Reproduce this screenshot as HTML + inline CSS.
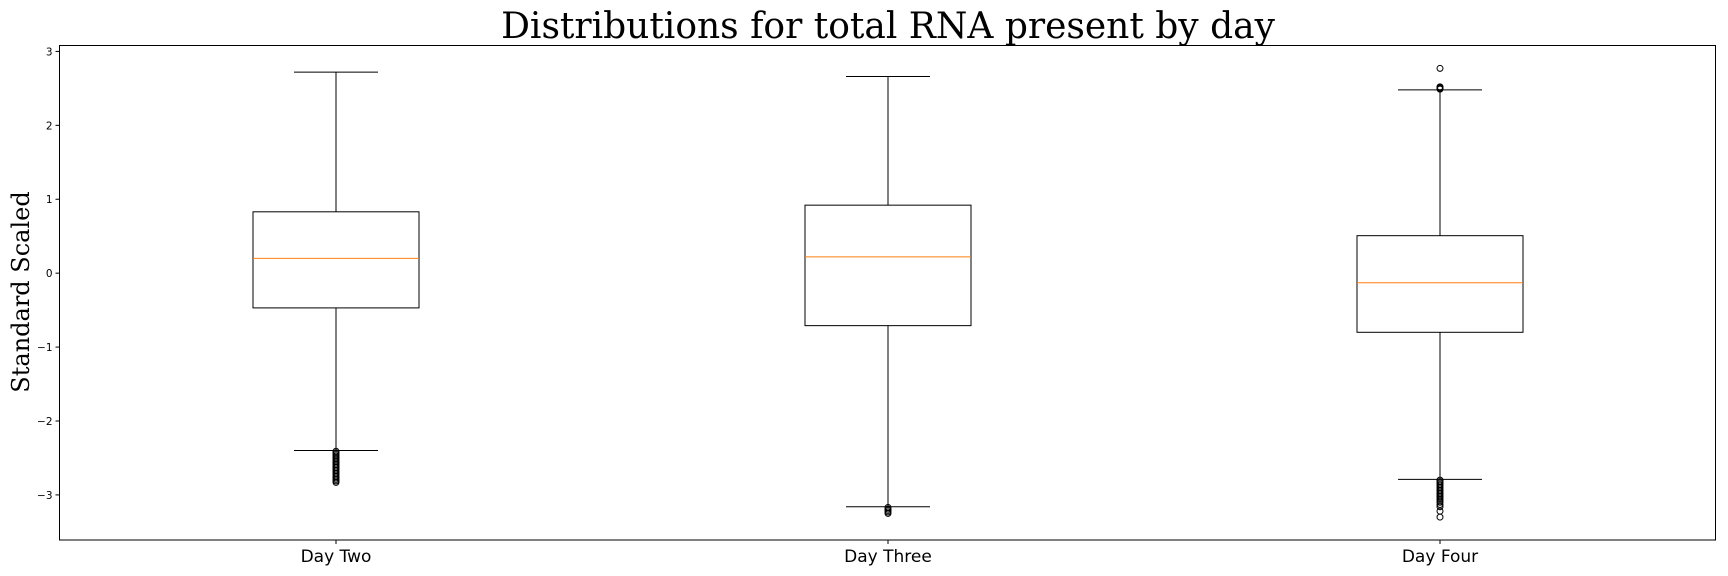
<!DOCTYPE html>
<html><head><meta charset="utf-8"><style>body{margin:0;background:#fff}svg{display:block}</style></head>
<body>
<svg id="c" width="1728" height="576" xmlns="http://www.w3.org/2000/svg">
<text x="888" y="38" text-anchor="middle" font-family="DejaVu Serif, serif" font-size="36">Distributions for total RNA present by day</text>
<text transform="translate(29,292) rotate(-90)" text-anchor="middle" font-family="DejaVu Serif, serif" font-size="24">Standard Scaled</text>
<g id="plot"></g>
<rect x="59.5" y="45.5" width="1656" height="494.5" fill="none" stroke="#000" stroke-width="1"/>
</svg>
<script>
const categories = ["Day Two", "Day Three", "Day Four"];
const q1 = [-0.47, -0.71, -0.80];
const q3 = [0.83, 0.92, 0.507];
const medians = [0.20, 0.22, -0.13];
const whiskLow = [-2.40, -3.16, -2.79];
const whiskHigh = [2.72, 2.66, 2.48];
const outliers = [
  [-2.41,-2.43,-2.45,-2.47,-2.49,-2.51,-2.53,-2.55,-2.57,-2.59,-2.61,-2.63,-2.65,-2.67,-2.69,-2.71,-2.73,-2.75,-2.77,-2.79,-2.81,-2.83],
  [-3.17,-3.19,-3.21,-3.23,-3.25],
  [2.77,2.52,2.51,2.50,2.49,-2.80,-2.82,-2.84,-2.86,-2.88,-2.90,-2.92,-2.94,-2.96,-2.98,-3.00,-3.02,-3.04,-3.06,-3.08,-3.10,-3.13,-3.16,-3.22,-3.30]
];
const yTicks = [-3,-2,-1,0,1,2,3];
const yMin = -3.61, yMax = 3.08;
const plotTop = 45.5, plotBottom = 540, plotLeft = 59.5, plotRight = 1715.5;
const ys = v => plotBottom - (v - yMin) / (yMax - yMin) * (plotBottom - plotTop);
const xs = i => plotLeft + (i + 0.5) / categories.length * (plotRight - plotLeft) + 0.5;
const NS = "http://www.w3.org/2000/svg";
const g = document.getElementById('plot');
function el(tag, attrs) {
  const e = document.createElementNS(NS, tag);
  for (const k in attrs) e.setAttribute(k, attrs[k]);
  g.appendChild(e);
  return e;
}
yTicks.forEach(t => {
  const tk = el('line', {x1: plotLeft - 4, x2: plotLeft, y1: ys(t), y2: ys(t), stroke: '#000'});
  
  
  const tl = el('text', {x: plotLeft - 7, y: ys(t) + 4, 'text-anchor': 'end', 'font-family': 'DejaVu Sans, sans-serif', 'font-size': 10.5});
  tl.textContent = t < 0 ? '\u2212' + Math.abs(t) : String(t);
  
  
});
categories.forEach((c, i) => {
  const cx = xs(i), hw = 83, cw = 42;
  const tk = el('line', {x1: cx, x2: cx, y1: plotBottom, y2: plotBottom + 4, stroke: '#000'});
  
  
  const tl = el('text', {x: cx, y: plotBottom + 22, 'text-anchor': 'middle', 'font-family': 'DejaVu Sans, sans-serif', 'font-size': 17});
  tl.textContent = c;
  
  
  const wl = el('line', {x1: cx, x2: cx, y1: ys(q1[i]), y2: ys(whiskLow[i]), stroke: '#000'});
  
  
  const wh = el('line', {x1: cx, x2: cx, y1: ys(q3[i]), y2: ys(whiskHigh[i]), stroke: '#000'});
  
  
  const cl = el('line', {x1: cx - cw, x2: cx + cw, y1: ys(whiskLow[i]), y2: ys(whiskLow[i]), stroke: '#000'});
  
  
  const ch = el('line', {x1: cx - cw, x2: cx + cw, y1: ys(whiskHigh[i]), y2: ys(whiskHigh[i]), stroke: '#000'});
  
  
  const b = el('rect', {x: cx - hw, y: ys(q3[i]), width: 2 * hw, height: ys(q1[i]) - ys(q3[i]), fill: 'none', stroke: '#000'});
  
  
  const m = el('line', {x1: cx - hw, x2: cx + hw, y1: ys(medians[i]), y2: ys(medians[i]), stroke: '#ff7f0e'});
  
  
  outliers[i].forEach(v => {
    const o = el('circle', {cx: cx, cy: ys(v), r: 3, fill: 'none', stroke: '#000'});
    
    
  });
});
</script>
</body></html>
